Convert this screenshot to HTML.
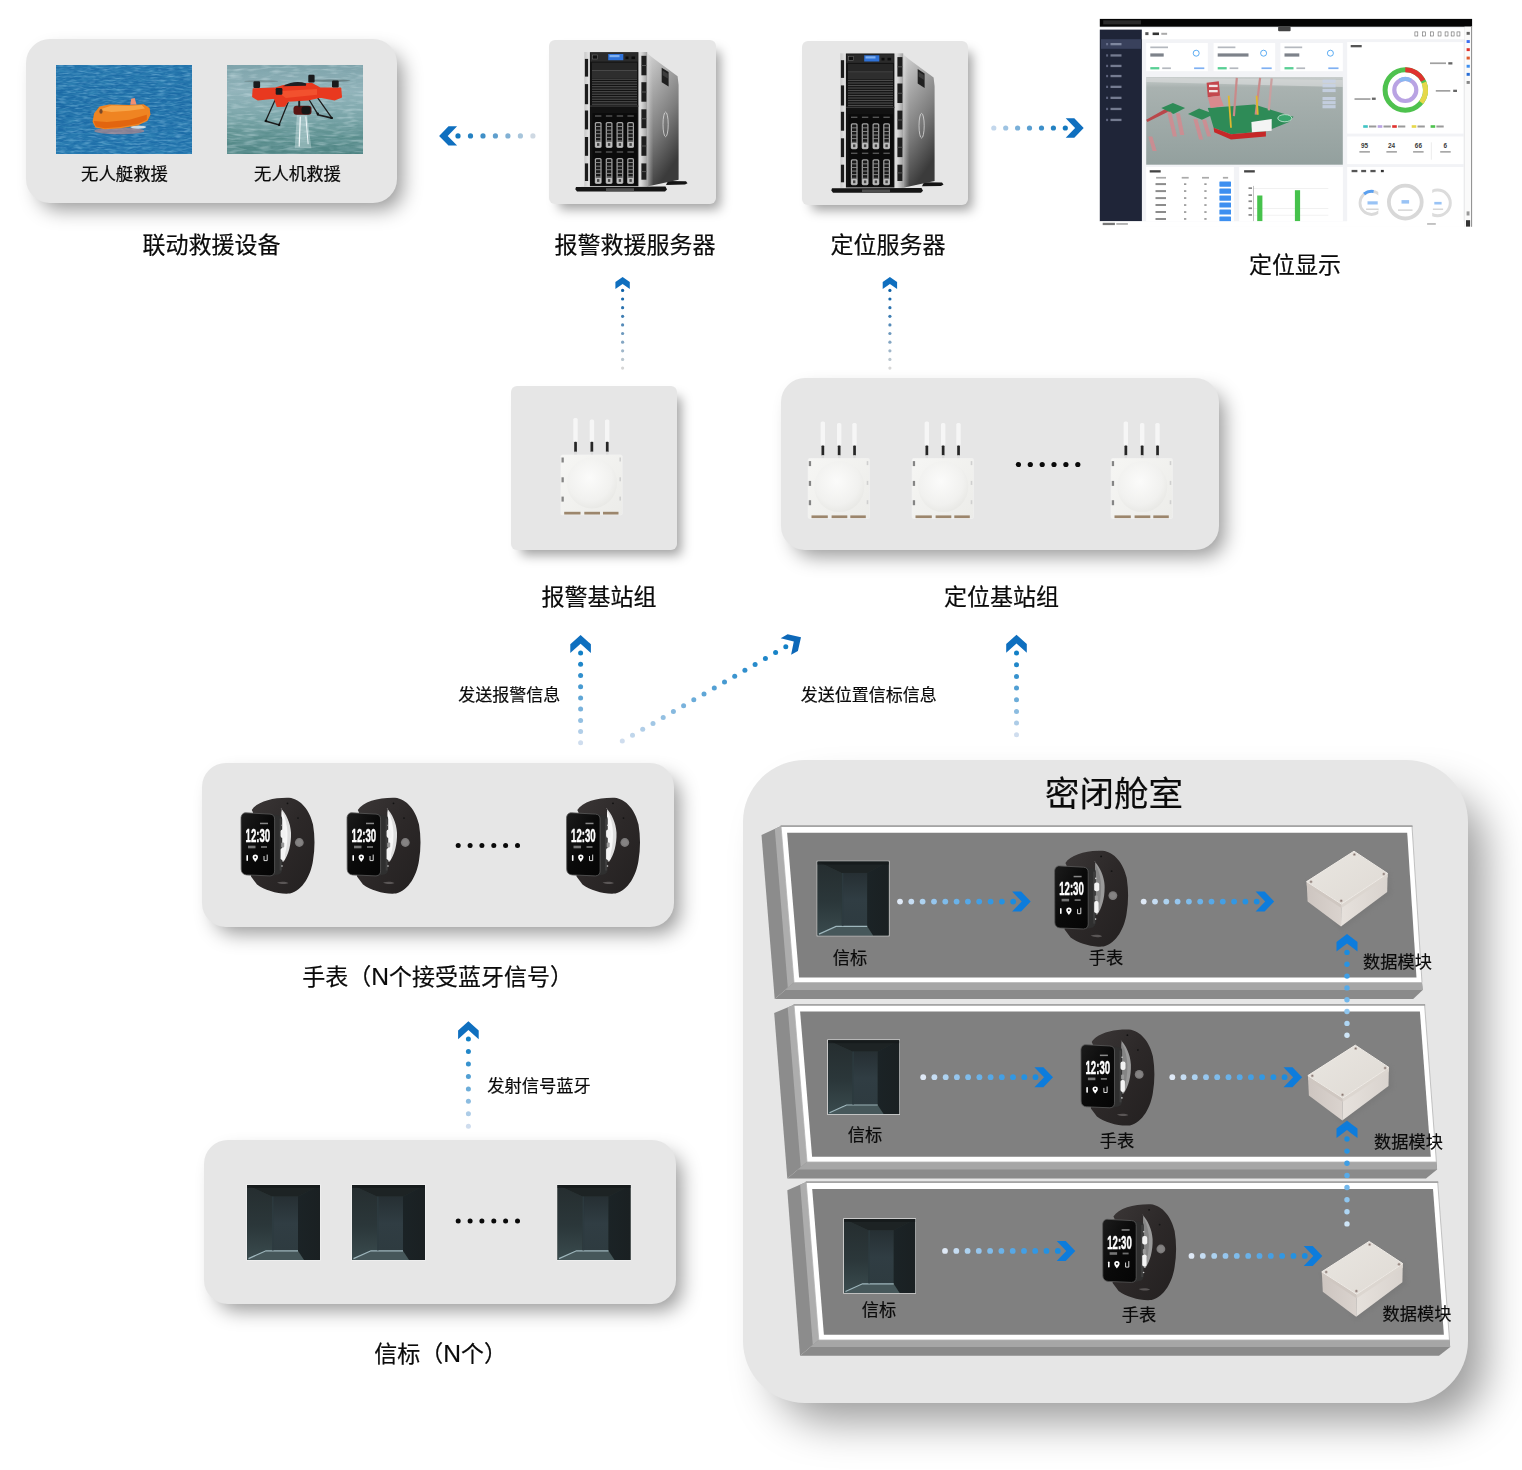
<!DOCTYPE html>
<html lang="zh-CN">
<head>
<meta charset="utf-8">
<title>定位与报警救援系统架构</title>
<style>
html,body{margin:0;padding:0;background:#fff;}
body{width:1522px;height:1470px;position:relative;overflow:hidden;font-family:"Liberation Sans","Noto Sans CJK SC",sans-serif;}
.panel{position:absolute;background:#e6e6e6;}
svg{position:absolute;left:0;top:0;opacity:.999;}
svg text{font-family:"Liberation Sans","Noto Sans CJK SC",sans-serif;fill:#0a0a0a;stroke:#0a0a0a;stroke-width:.2px;}
</style>
</head>
<body>
<div class="panel" style="left:26px;top:39px;width:371px;height:164px;border-radius:24px;box-shadow:9px 10px 20px -4px rgba(0,0,0,.42);"></div>
<div class="panel" style="left:549px;top:40px;width:167px;height:164px;border-radius:6px;box-shadow:7px 8px 12px -3px rgba(0,0,0,.38);"></div>
<div class="panel" style="left:802px;top:41px;width:166px;height:164px;border-radius:6px;box-shadow:7px 8px 12px -3px rgba(0,0,0,.38);"></div>
<div class="panel" style="left:511px;top:386px;width:166px;height:164px;border-radius:6px;box-shadow:7px 8px 12px -3px rgba(0,0,0,.38);"></div>
<div class="panel" style="left:781px;top:378px;width:438px;height:172px;border-radius:24px;box-shadow:9px 10px 20px -4px rgba(0,0,0,.42);"></div>
<div class="panel" style="left:202px;top:763px;width:472px;height:164px;border-radius:24px;box-shadow:9px 10px 20px -4px rgba(0,0,0,.42);"></div>
<div class="panel" style="left:204px;top:1140px;width:472px;height:164px;border-radius:24px;box-shadow:9px 10px 20px -4px rgba(0,0,0,.42);"></div>
<div class="panel" style="left:743px;top:760px;width:725px;height:643px;border-radius:62px;box-shadow:24px 26px 44px -8px rgba(0,0,0,.40);"></div>
<svg width="1522" height="1470" viewBox="0 0 1522 1470">
<defs>
<filter id="blur2" x="-20%" y="-20%" width="140%" height="140%"><feGaussianBlur stdDeviation="2"/></filter>
<filter id="blur1" x="-20%" y="-20%" width="140%" height="140%"><feGaussianBlur stdDeviation="0.7"/></filter>
<linearGradient id="svSide" x1="0" y1="0" x2="0.35" y2="1"><stop offset="0" stop-color="#d6d6d6"/><stop offset=".3" stop-color="#a9a9a9"/><stop offset=".62" stop-color="#7d7d7d"/><stop offset="1" stop-color="#3b3b3b"/></linearGradient>
<linearGradient id="svSide2" x1="0" y1="0" x2="1" y2="0"><stop offset="0" stop-color="#e8e8e8"/><stop offset="1" stop-color="#bdbdbd" stop-opacity="0"/></linearGradient>
<linearGradient id="svFront" x1="0" y1="0" x2="1" y2="0"><stop offset="0" stop-color="#c9c9c9"/><stop offset=".08" stop-color="#e6e6e6"/><stop offset=".9" stop-color="#dcdcdc"/><stop offset="1" stop-color="#a0a0a0"/></linearGradient>
<linearGradient id="bsBody" x1="0" y1="0" x2="1" y2="1"><stop offset="0" stop-color="#f6f6f4"/><stop offset="1" stop-color="#ecece9"/></linearGradient>
<radialGradient id="bsDome" cx=".45" cy=".4" r=".6"><stop offset="0" stop-color="#fbfbfa"/><stop offset=".75" stop-color="#f1f1ef"/><stop offset="1" stop-color="#e9e9e6"/></radialGradient>
<linearGradient id="bcL" x1="0" y1="0" x2="0" y2="1"><stop offset="0" stop-color="#252d2f"/><stop offset=".55" stop-color="#2b373a"/><stop offset="1" stop-color="#3a4b4e"/></linearGradient>
<linearGradient id="bcB" x1="0" y1="0" x2="0" y2="1"><stop offset="0" stop-color="#262f33"/><stop offset=".5" stop-color="#303d43"/><stop offset="1" stop-color="#2e3b40"/></linearGradient>
<linearGradient id="bcR" x1="0" y1="0" x2="1" y2="0"><stop offset="0" stop-color="#1b2326"/><stop offset="1" stop-color="#1a2022"/></linearGradient>
<linearGradient id="mdT" x1="0" y1="0" x2="1" y2="1"><stop offset="0" stop-color="#e9e6e1"/><stop offset="1" stop-color="#dfdad4"/></linearGradient>
<linearGradient id="mdL" x1="0" y1="0" x2="1" y2="0"><stop offset="0" stop-color="#cdc5c0"/><stop offset="1" stop-color="#dad3ce"/></linearGradient>
<linearGradient id="mdR" x1="0" y1="0" x2="1" y2="0"><stop offset="0" stop-color="#e6e1dc"/><stop offset="1" stop-color="#d9d3ce"/></linearGradient>
<linearGradient id="wBand" x1="0" y1="0" x2="1" y2="1"><stop offset="0" stop-color="#3a3636"/><stop offset=".5" stop-color="#2c2828"/><stop offset="1" stop-color="#232020"/></linearGradient>
<linearGradient id="wFace" x1="0" y1="0" x2="1" y2="1"><stop offset="0" stop-color="#1c1c1c"/><stop offset=".5" stop-color="#0a0a0a"/><stop offset="1" stop-color="#050505"/></linearGradient>
<linearGradient id="sea1" x1="0" y1="0" x2="0" y2="1"><stop offset="0" stop-color="#1f6ea8"/><stop offset=".5" stop-color="#1a68a4"/><stop offset="1" stop-color="#1f6faa"/></linearGradient>
<linearGradient id="sea2" x1="0" y1="0" x2="0" y2="1"><stop offset="0" stop-color="#7da2aa"/><stop offset=".3" stop-color="#94b5bc"/><stop offset=".6" stop-color="#77a3a6"/><stop offset=".8" stop-color="#5a8e8d"/><stop offset="1" stop-color="#4d8382"/></linearGradient>
<linearGradient id="dsea" x1="0" y1="0" x2="0" y2="1"><stop offset="0" stop-color="#c9cecd"/><stop offset=".12" stop-color="#a9b2b0"/><stop offset="1" stop-color="#93a09e"/></linearGradient>
<g id="server">
<polygon points="119,141 137,141.3 138.5,143.2 136,144.6 117,145" fill="#141414" />
<polygon points="27,147 116.5,146.6 118,149.5 116,151.5 28,151.5 26.3,149.3" fill="#151515" />
<rect x="57" y="148.2" width="28" height="3" fill="#4d4d4d" />
<polygon points="98.2,13.3 101.5,16 106,19.5 128.6,36.2 129.6,45 129.6,139.7 98.2,146.4" fill="url(#svSide)" />
<polygon points="98.2,13.3 101.5,16 104,30 104.5,146 98.2,146.4" fill="url(#svSide2)" opacity=".55"/>
<polygon points="112.7,27.7 119.6,32.1 119.6,46.6 112.7,42.2" fill="#202020" />
<polygon points="113.6,30.5 118.8,33.8 118.8,38.5 113.6,35.2" fill="#3d3d3d" />
<ellipse cx="116.6" cy="84.4" rx="2.6" ry="12.3" fill="none" stroke="#d9d9d9" stroke-width="1" opacity=".8"/>
<rect x="35.3" y="12" width="62.9" height="134.6" fill="url(#svFront)" />
<rect x="35.9" y="18.9" width="3.2" height="17.7" fill="#1b1b1b" />
<rect x="35.9" y="44.1" width="3.2" height="20.1" fill="#1b1b1b" />
<rect x="35.9" y="70.5" width="3.2" height="18.9" fill="#1b1b1b" />
<rect x="35.9" y="97" width="3.2" height="18.8" fill="#1b1b1b" />
<rect x="35.9" y="123.4" width="3.2" height="17.6" fill="#1b1b1b" />
<rect x="92.4" y="15.8" width="5" height="19.5" fill="#1e1e1e" />
<rect x="92.4" y="25" width="5" height="1" fill="#555" />
<rect x="92.4" y="42.2" width="5" height="19.5" fill="#1e1e1e" />
<rect x="92.4" y="51.5" width="5" height="1" fill="#555" />
<rect x="92.4" y="69.3" width="5" height="18.9" fill="#1e1e1e" />
<rect x="92.4" y="78.2" width="5" height="1" fill="#555" />
<rect x="92.4" y="96.3" width="5" height="19.5" fill="#1e1e1e" />
<rect x="92.4" y="105.5" width="5" height="1" fill="#555" />
<rect x="92.4" y="123.4" width="5" height="16.3" fill="#1e1e1e" />
<rect x="92.4" y="131.1" width="5" height="1" fill="#555" />
<rect x="40.9" y="12.2" width="48.5" height="134" fill="#121212" />
<rect x="41.5" y="13" width="47.3" height="8.6" fill="#2b2b2b" />
<rect x="59.2" y="14" width="15.1" height="6.2" fill="#2f72d8" />
<rect x="60.5" y="15" width="10" height="2.2" fill="#7fb0f0" />
<rect x="76.5" y="16.5" width="3" height="2.6" fill="#0c0c0c" />
<rect x="82.5" y="16.5" width="3.6" height="2.6" fill="#0c0c0c" />
<rect x="43.5" y="15" width="5" height="4" fill="#111" stroke="#777" stroke-width=".5"/>
<rect x="43" y="22.6" width="45" height="7.6" fill="#262626" />
<rect x="43" y="31" width="45" height="7" fill="#2e2e2e" />
<rect x="43" y="30.2" width="45" height="0.8" fill="#565656" />
<rect x="43" y="38.6" width="45" height="1.2" fill="#4a4a4a" />
<rect x="43" y="41.1" width="45" height="1.2" fill="#4a4a4a" />
<rect x="43" y="43.6" width="45" height="1.2" fill="#4a4a4a" />
<rect x="43" y="46.1" width="45" height="1.2" fill="#4a4a4a" />
<rect x="43" y="48.6" width="45" height="1.2" fill="#4a4a4a" />
<rect x="43" y="51.1" width="45" height="1.2" fill="#4a4a4a" />
<rect x="43" y="53.6" width="45" height="1.2" fill="#4a4a4a" />
<rect x="43" y="56.1" width="45" height="1.2" fill="#4a4a4a" />
<rect x="43" y="58.6" width="45" height="1.2" fill="#4a4a4a" />
<rect x="43" y="61.1" width="45" height="1.2" fill="#4a4a4a" />
<rect x="43" y="63.6" width="45" height="1.2" fill="#4a4a4a" />
<rect x="41" y="65.5" width="48.4" height="1.2" fill="#3a3a3a" />
<rect x="43.5" y="73" width="44.5" height="72" fill="#0b0b0b" />
<rect x="46" y="75.3" width="6.4" height="1.4" fill="#555" />
<rect x="45.8" y="81.9" width="6.8" height="26" fill="#a4a4a4" rx="1.6"/>
<rect x="47" y="83.3" width="4.4" height="23" fill="#1a1a1a" rx="0.8"/>
<rect x="46.2" y="86.1" width="6" height="0.9" fill="#8f8f8f" />
<rect x="46.2" y="89.7" width="6" height="0.9" fill="#8f8f8f" />
<rect x="46.2" y="93.3" width="6" height="0.9" fill="#8f8f8f" />
<rect x="46.2" y="96.9" width="6" height="0.9" fill="#8f8f8f" />
<rect x="46.2" y="100.5" width="6" height="0.9" fill="#8f8f8f" />
<rect x="46.2" y="101.7" width="6" height="5.4" fill="#bdbdbd" rx="1"/>
<rect x="48" y="103.1" width="2.4" height="2.8" fill="#444" />
<rect x="46" y="111.3" width="6.4" height="1.4" fill="#555" />
<rect x="45.8" y="117.9" width="6.8" height="26" fill="#a4a4a4" rx="1.6"/>
<rect x="47" y="119.3" width="4.4" height="23" fill="#1a1a1a" rx="0.8"/>
<rect x="46.2" y="122.1" width="6" height="0.9" fill="#8f8f8f" />
<rect x="46.2" y="125.7" width="6" height="0.9" fill="#8f8f8f" />
<rect x="46.2" y="129.3" width="6" height="0.9" fill="#8f8f8f" />
<rect x="46.2" y="132.9" width="6" height="0.9" fill="#8f8f8f" />
<rect x="46.2" y="136.5" width="6" height="0.9" fill="#8f8f8f" />
<rect x="46.2" y="137.7" width="6" height="5.4" fill="#bdbdbd" rx="1"/>
<rect x="48" y="139.1" width="2.4" height="2.8" fill="#444" />
<rect x="56.9" y="75.3" width="6.4" height="1.4" fill="#555" />
<rect x="56.7" y="81.9" width="6.8" height="26" fill="#a4a4a4" rx="1.6"/>
<rect x="57.9" y="83.3" width="4.4" height="23" fill="#1a1a1a" rx="0.8"/>
<rect x="57.1" y="86.1" width="6" height="0.9" fill="#8f8f8f" />
<rect x="57.1" y="89.7" width="6" height="0.9" fill="#8f8f8f" />
<rect x="57.1" y="93.3" width="6" height="0.9" fill="#8f8f8f" />
<rect x="57.1" y="96.9" width="6" height="0.9" fill="#8f8f8f" />
<rect x="57.1" y="100.5" width="6" height="0.9" fill="#8f8f8f" />
<rect x="57.1" y="101.7" width="6" height="5.4" fill="#bdbdbd" rx="1"/>
<rect x="58.9" y="103.1" width="2.4" height="2.8" fill="#444" />
<rect x="56.9" y="111.3" width="6.4" height="1.4" fill="#555" />
<rect x="56.7" y="117.9" width="6.8" height="26" fill="#a4a4a4" rx="1.6"/>
<rect x="57.9" y="119.3" width="4.4" height="23" fill="#1a1a1a" rx="0.8"/>
<rect x="57.1" y="122.1" width="6" height="0.9" fill="#8f8f8f" />
<rect x="57.1" y="125.7" width="6" height="0.9" fill="#8f8f8f" />
<rect x="57.1" y="129.3" width="6" height="0.9" fill="#8f8f8f" />
<rect x="57.1" y="132.9" width="6" height="0.9" fill="#8f8f8f" />
<rect x="57.1" y="136.5" width="6" height="0.9" fill="#8f8f8f" />
<rect x="57.1" y="137.7" width="6" height="5.4" fill="#bdbdbd" rx="1"/>
<rect x="58.9" y="139.1" width="2.4" height="2.8" fill="#444" />
<rect x="67.7" y="75.3" width="6.4" height="1.4" fill="#555" />
<rect x="67.5" y="81.9" width="6.8" height="26" fill="#a4a4a4" rx="1.6"/>
<rect x="68.7" y="83.3" width="4.4" height="23" fill="#1a1a1a" rx="0.8"/>
<rect x="67.9" y="86.1" width="6" height="0.9" fill="#8f8f8f" />
<rect x="67.9" y="89.7" width="6" height="0.9" fill="#8f8f8f" />
<rect x="67.9" y="93.3" width="6" height="0.9" fill="#8f8f8f" />
<rect x="67.9" y="96.9" width="6" height="0.9" fill="#8f8f8f" />
<rect x="67.9" y="100.5" width="6" height="0.9" fill="#8f8f8f" />
<rect x="67.9" y="101.7" width="6" height="5.4" fill="#bdbdbd" rx="1"/>
<rect x="69.7" y="103.1" width="2.4" height="2.8" fill="#444" />
<rect x="67.7" y="111.3" width="6.4" height="1.4" fill="#555" />
<rect x="67.5" y="117.9" width="6.8" height="26" fill="#a4a4a4" rx="1.6"/>
<rect x="68.7" y="119.3" width="4.4" height="23" fill="#1a1a1a" rx="0.8"/>
<rect x="67.9" y="122.1" width="6" height="0.9" fill="#8f8f8f" />
<rect x="67.9" y="125.7" width="6" height="0.9" fill="#8f8f8f" />
<rect x="67.9" y="129.3" width="6" height="0.9" fill="#8f8f8f" />
<rect x="67.9" y="132.9" width="6" height="0.9" fill="#8f8f8f" />
<rect x="67.9" y="136.5" width="6" height="0.9" fill="#8f8f8f" />
<rect x="67.9" y="137.7" width="6" height="5.4" fill="#bdbdbd" rx="1"/>
<rect x="69.7" y="139.1" width="2.4" height="2.8" fill="#444" />
<rect x="78.4" y="75.3" width="6.4" height="1.4" fill="#555" />
<rect x="78.2" y="81.9" width="6.8" height="26" fill="#a4a4a4" rx="1.6"/>
<rect x="79.4" y="83.3" width="4.4" height="23" fill="#1a1a1a" rx="0.8"/>
<rect x="78.6" y="86.1" width="6" height="0.9" fill="#8f8f8f" />
<rect x="78.6" y="89.7" width="6" height="0.9" fill="#8f8f8f" />
<rect x="78.6" y="93.3" width="6" height="0.9" fill="#8f8f8f" />
<rect x="78.6" y="96.9" width="6" height="0.9" fill="#8f8f8f" />
<rect x="78.6" y="100.5" width="6" height="0.9" fill="#8f8f8f" />
<rect x="78.6" y="101.7" width="6" height="5.4" fill="#bdbdbd" rx="1"/>
<rect x="80.4" y="103.1" width="2.4" height="2.8" fill="#444" />
<rect x="78.4" y="111.3" width="6.4" height="1.4" fill="#555" />
<rect x="78.2" y="117.9" width="6.8" height="26" fill="#a4a4a4" rx="1.6"/>
<rect x="79.4" y="119.3" width="4.4" height="23" fill="#1a1a1a" rx="0.8"/>
<rect x="78.6" y="122.1" width="6" height="0.9" fill="#8f8f8f" />
<rect x="78.6" y="125.7" width="6" height="0.9" fill="#8f8f8f" />
<rect x="78.6" y="129.3" width="6" height="0.9" fill="#8f8f8f" />
<rect x="78.6" y="132.9" width="6" height="0.9" fill="#8f8f8f" />
<rect x="78.6" y="136.5" width="6" height="0.9" fill="#8f8f8f" />
<rect x="78.6" y="137.7" width="6" height="5.4" fill="#bdbdbd" rx="1"/>
<rect x="80.4" y="139.1" width="2.4" height="2.8" fill="#444" />
</g>
<g id="bs">
<rect x="12.3" y="1.9" width="4.4" height="24.1" fill="#f7f7f7" rx="1.6" opacity=".92"/>
<rect x="13.2" y="25.8" width="2.7" height="10.4" fill="#262626" rx="0.8"/>
<rect x="13.3" y="35.6" width="2.4" height="4.6" fill="#dcdcdc" />
<rect x="28.7" y="3.4" width="4.4" height="22.6" fill="#f7f7f7" rx="1.6" opacity=".92"/>
<rect x="29.5" y="25.8" width="2.7" height="10.4" fill="#262626" rx="0.8"/>
<rect x="29.7" y="35.6" width="2.4" height="4.6" fill="#dcdcdc" />
<rect x="44" y="3.4" width="4.4" height="22.6" fill="#f7f7f7" rx="1.6" opacity=".92"/>
<rect x="44.9" y="25.8" width="2.7" height="10.4" fill="#262626" rx="0.8"/>
<rect x="45" y="35.6" width="2.4" height="4.6" fill="#dcdcdc" />
<rect x="-0.6" y="38.4" width="62.2" height="60.9" fill="#f4f4f4" rx="2" opacity=".7"/>
<rect x="0" y="39" width="61" height="59.7" fill="url(#bsBody)" rx="1.5"/>
<ellipse cx="31" cy="67" rx="25" ry="25.5" fill="url(#bsDome)"/>
<rect x="0.5" y="41.5" width="2.3" height="5" fill="#858585" />
<rect x="58.4" y="41.5" width="1.6" height="4" fill="#cfcfcf" />
<rect x="0.5" y="61.3" width="2.3" height="5" fill="#858585" />
<rect x="58.4" y="61.3" width="1.6" height="4" fill="#cfcfcf" />
<rect x="0.5" y="80.6" width="2.3" height="5" fill="#858585" />
<rect x="58.4" y="80.6" width="1.6" height="4" fill="#cfcfcf" />
<rect x="3.2" y="95.8" width="16.3" height="2.7" fill="#9c866c" />
<rect x="23.3" y="95.8" width="15.7" height="2.7" fill="#9c866c" />
<rect x="42" y="95.8" width="15.5" height="2.7" fill="#9c866c" />
</g>
<g id="beacon">
<rect x="-0.7" y="-0.7" width="74.4" height="76.4" fill="#f1f1f1" />
<rect x="0" y="0" width="73" height="75" fill="#26312f" />
<polygon points="0,0 73,0 51,11.5 25,11.5" fill="#1d2324" />
<polygon points="0,0 25,11.5 25,65.5 0,75" fill="url(#bcL)" />
<rect x="25" y="11.5" width="26" height="54" fill="url(#bcB)" />
<polygon points="73,0 51,11.5 51,65.5 57,75 73,75" fill="url(#bcR)" />
<polygon points="0,75 2,73.3 19,66 51,66 57,75" fill="#46575a" />
<polyline points="1.5,73.6 19,65.8 51,65.8" fill="none" stroke="#9fb7bd" stroke-width="1.2"/>
<rect x="25" y="11.5" width="1.6" height="54" fill="#2d3b40" opacity=".8"/>
<rect x="0" y="0" width="73" height="3" fill="#141819" opacity=".7"/>
</g>
<g id="beaconb">
<rect x="-0.8" y="-0.8" width="72.8" height="75.5" fill="#dadada" />
<g transform="scale(0.975,0.985)"><rect x="0" y="0" width="73" height="75" fill="#26312f" />
<polygon points="0,0 73,0 51,11.5 25,11.5" fill="#1d2324" />
<polygon points="0,0 25,11.5 25,65.5 0,75" fill="url(#bcL)" />
<rect x="25" y="11.5" width="26" height="54" fill="url(#bcB)" />
<polygon points="73,0 51,11.5 51,65.5 57,75 73,75" fill="url(#bcR)" />
<polygon points="0,75 2,73.3 19,66 51,66 57,75" fill="#46575a" />
<polyline points="1.5,73.6 19,65.8 51,65.8" fill="none" stroke="#9fb7bd" stroke-width="1.2"/>
<rect x="25" y="11.5" width="1.6" height="54" fill="#2d3b40" opacity=".8"/>
<rect x="0" y="0" width="73" height="3" fill="#141819" opacity=".7"/>
</g></g>
<g id="module">
<polygon points="0,33 36,80 86,44 84,22" fill="#6f6f6f" opacity=".35" filter="url(#blur2)"/>
<polygon points="1.6,31.6 36.4,54 36,76.6 2.6,51.5" fill="url(#mdL)" />
<polygon points="36.4,54 82.6,23.4 82.2,42 36,76.6" fill="url(#mdR)" />
<polygon points="1.6,31.6 36.4,54 36.4,58 1.8,35.4" fill="#cfc7c1" />
<polygon points="36.4,54 82.6,23.4 82.6,27.2 36.4,58" fill="#dcd6d0" />
<polygon points="49,1.2 82.6,23.4 36.4,54 1.6,31.6" fill="url(#mdT)" stroke="#efebe6" stroke-width="1" stroke-linejoin="round"/>
<circle cx="6" cy="31.8" r="1.5" fill="#b9aca6" />
<circle cx="6" cy="31.8" r="0.7" fill="#7f716c" />
<circle cx="36.2" cy="50.8" r="1.5" fill="#b9aca6" />
<circle cx="36.2" cy="50.8" r="0.7" fill="#7f716c" />
<circle cx="78.8" cy="24" r="1.5" fill="#b9aca6" />
<circle cx="78.8" cy="24" r="0.7" fill="#7f716c" />
<circle cx="49.4" cy="4.4" r="1.5" fill="#b9aca6" />
<circle cx="49.4" cy="4.4" r="0.7" fill="#7f716c" />
</g>
<g id="watch">
<path d="M10.8,-2.5 C16,-11 32,-15.2 48,-14.8 C60,-13.5 69,-2 72,12 C74,24 74,36 72,48 C70,62 62,78 49,81 C38,82 24,78 16,72 L10,64 L12,0 Z" fill="url(#wBand)"/>
<path d="M39.6,-4.6 C45,1 49.5,10 50,20 C50.4,32 47.5,42 42.8,49 L40.6,49 L40.6,-4 Z" fill="#dedede"/>
<path d="M41,-1 C44.5,5 46.3,13 46.5,21 C46.6,31 45,40 42,47.2 L40.6,47.2 L40.6,-1 Z" fill="#f7f7f7"/>
<circle cx="46.5" cy="-9.2" r="0.9" fill="#111" />
<circle cx="57" cy="5.6" r="0.9" fill="#141414" />
<circle cx="58.3" cy="30" r="4.4" fill="#7c7a7a" />
<circle cx="58.3" cy="30" r="3" fill="#858383" />
<path d="M36,70 C40,68.8 45,69 47.5,70.6 C45,72 39.5,72 36,70 Z" fill="#5a5656"/>
<path d="M30,1.5 L39,3.2 C40.6,3.6 41.2,5 41.2,7 L41.2,56 C41.2,59 40,61.2 38,61.8 L30,63.5 Z" fill="#2f2f2f"/>
<rect x="38.6" y="6" width="2" height="52" fill="#4a4a4a" opacity=".6"/>
<rect x="39.6" y="17" width="5" height="8.6" fill="#f2f2f2" rx="2"/>
<rect x="40.2" y="30" width="3" height="5" fill="#9a9a9a" rx="1"/>
<rect x="39.6" y="35.5" width="4.4" height="12" fill="#f4f4f4" rx="1.8"/>
<circle cx="41.2" cy="12.8" r="0.8" fill="#cfcfcf" />
<circle cx="41" cy="53.5" r="0.8" fill="#cfcfcf" />
<path d="M5,0.3 L29,1.6 C32,1.8 33.6,3.6 33.6,6.6 L33.6,58.4 C33.6,61.4 32,63.2 29,63.4 L5.6,62.4 C2.2,62.2 0.2,60 0.2,56.6 L0,6 C0,2.6 1.8,0.2 5,0.3 Z" fill="url(#wFace)" stroke="#5a5a5a" stroke-width=".8"/>
<text x="4.6" y="29.6" font-size="17.6" font-weight="700" textLength="24.6" lengthAdjust="spacingAndGlyphs" style="fill:#fff;stroke:#fff;stroke-width:.45px;font-family:'Liberation Sans',sans-serif">12:30</text>
<rect x="19" y="10.2" width="8" height="1.5" fill="#bdbdbd" opacity=".7"/>
<rect x="7" y="33.2" width="7.5" height="2.6" fill="#9a9a9a" opacity=".75"/>
<rect x="20" y="33.6" width="6" height="1.8" fill="#9a9a9a" opacity=".7"/>
<rect x="5.4" y="42.5" width="1.6" height="6" fill="#fff" rx=".8"/>
<path d="M14.3,42 a2.7,2.7 0 0 1 2.7,2.7 c0,1.8 -2.7,4.6 -2.7,4.6 c0,0 -2.7,-2.8 -2.7,-4.6 a2.7,2.7 0 0 1 2.7,-2.7 z" fill="#fff"/>
<circle cx="14.3" cy="44.7" r="1" fill="#111" />
<path d="M23,43.5 v4.6 h3.2 v-6" fill="none" stroke="#ddd" stroke-width="1"/>
</g>
<g id="watchc">
<path d="M10.8,-2.5 C16,-11 32,-15.2 48,-14.8 C60,-13.5 69,-2 72,12 C74,24 74,36 72,48 C70,62 62,78 49,81 C38,82 24,78 16,72 L10,64 L12,0 Z" fill="url(#wBand)"/>
<path d="M39.6,-4.6 C45,1 49.5,10 50,20 C50.4,32 47.5,42 42.8,49 L40.6,49 L40.6,-4 Z" fill="#9a9a9a"/>
<path d="M41,-1 C44.5,5 46.3,13 46.5,21 C46.6,31 45,40 42,47.2 L40.6,47.2 L40.6,-1 Z" fill="#858585"/>
<circle cx="46.5" cy="-9.2" r="0.9" fill="#111" />
<circle cx="57" cy="5.6" r="0.9" fill="#141414" />
<circle cx="58.3" cy="30" r="4.4" fill="#7c7a7a" />
<circle cx="58.3" cy="30" r="3" fill="#858383" />
<path d="M36,70 C40,68.8 45,69 47.5,70.6 C45,72 39.5,72 36,70 Z" fill="#5a5656"/>
<path d="M30,1.5 L39,3.2 C40.6,3.6 41.2,5 41.2,7 L41.2,56 C41.2,59 40,61.2 38,61.8 L30,63.5 Z" fill="#2f2f2f"/>
<rect x="38.6" y="6" width="2" height="52" fill="#4a4a4a" opacity=".6"/>
<rect x="39.6" y="17" width="5" height="8.6" fill="#f2f2f2" rx="2"/>
<rect x="40.2" y="30" width="3" height="5" fill="#9a9a9a" rx="1"/>
<rect x="39.6" y="35.5" width="4.4" height="12" fill="#f4f4f4" rx="1.8"/>
<circle cx="41.2" cy="12.8" r="0.8" fill="#cfcfcf" />
<circle cx="41" cy="53.5" r="0.8" fill="#cfcfcf" />
<path d="M5,0.3 L29,1.6 C32,1.8 33.6,3.6 33.6,6.6 L33.6,58.4 C33.6,61.4 32,63.2 29,63.4 L5.6,62.4 C2.2,62.2 0.2,60 0.2,56.6 L0,6 C0,2.6 1.8,0.2 5,0.3 Z" fill="url(#wFace)" stroke="#5a5a5a" stroke-width=".8"/>
<text x="4.6" y="29.6" font-size="17.6" font-weight="700" textLength="24.6" lengthAdjust="spacingAndGlyphs" style="fill:#fff;stroke:#fff;stroke-width:.45px;font-family:'Liberation Sans',sans-serif">12:30</text>
<rect x="19" y="10.2" width="8" height="1.5" fill="#bdbdbd" opacity=".7"/>
<rect x="7" y="33.2" width="7.5" height="2.6" fill="#9a9a9a" opacity=".75"/>
<rect x="20" y="33.6" width="6" height="1.8" fill="#9a9a9a" opacity=".7"/>
<rect x="5.4" y="42.5" width="1.6" height="6" fill="#fff" rx=".8"/>
<path d="M14.3,42 a2.7,2.7 0 0 1 2.7,2.7 c0,1.8 -2.7,4.6 -2.7,4.6 c0,0 -2.7,-2.8 -2.7,-4.6 a2.7,2.7 0 0 1 2.7,-2.7 z" fill="#fff"/>
<circle cx="14.3" cy="44.7" r="1" fill="#111" />
<path d="M23,43.5 v4.6 h3.2 v-6" fill="none" stroke="#ddd" stroke-width="1"/>
</g>
</defs>
<g>
<filter id="wv1" x="0" y="0" width="100%" height="100%"><feTurbulence type="fractalNoise" baseFrequency="0.09 0.45" numOctaves="3" seed="7" result="n"/><feColorMatrix in="n" type="matrix" values="0 0 0 0 0.05  0 0 0 0 0.30  0 0 0 0 0.52  1.8 0 0 0 -0.5"/></filter>
<filter id="wv1b" x="0" y="0" width="100%" height="100%"><feTurbulence type="fractalNoise" baseFrequency="0.12 0.55" numOctaves="2" seed="21" result="n"/><feColorMatrix in="n" type="matrix" values="0 0 0 0 0.30  0 0 0 0 0.60  0 0 0 0 0.82  0 1.8 0 0 -0.8"/></filter>
<rect x="56" y="65" width="136" height="89" fill="url(#sea1)" />
<rect x="56" y="65" width="136" height="89" fill="#000" filter="url(#wv1)" opacity=".55"/>
<rect x="56" y="65" width="136" height="89" fill="#000" filter="url(#wv1b)" opacity=".6"/>
<ellipse cx="119.3" cy="130.9" rx="25" ry="3.4" fill="#c98a86" opacity=".6"/>
<ellipse cx="138.3" cy="127.1" rx="8" ry="1.6" fill="#f2f2f2" opacity=".8"/>
<path d="M93.6,121.5 L95,113.9 L99.9,107.6 L109.3,105.6 L129.4,105.9 L143.2,105.2 L148.6,108.5 L149.5,114.3 L146.8,120.2 L138.3,124.2 L120.4,127.3 L104.8,128.2 L95.9,126.4 Z" fill="#ef8422" stroke="#ef8422" stroke-width="2" stroke-linejoin="round"/>
<path d="M93.6,121 L107,121.9 L129.4,119.7 L146.8,114.8 L146.8,119.7 L138.3,123.7 L120.4,127.1 L104.8,128.2 L95.9,126.4 Z" fill="#e2650f"/>
<path d="M98.5,109.9 L111.5,105.4 L129.4,105.9 L141.7,105 L145,108.5 L129.4,110.8 L111.5,112.1 Z" fill="#f7a548"/>
<polygon points="130.3,104.7 131.2,98.7 134.7,98 136.5,104.5" fill="#f29072" />
<ellipse cx="101" cy="111.4" rx="1.6" ry="2.4" fill="#7a4a2a"/>
</g>
<g>
<filter id="wv2" x="0" y="0" width="100%" height="100%"><feTurbulence type="fractalNoise" baseFrequency="0.05 0.3" numOctaves="3" seed="3" result="n"/><feColorMatrix in="n" type="matrix" values="0 0 0 0 0.24  0 0 0 0 0.42  0 0 0 0 0.45  1.7 0 0 0 -0.5"/></filter>
<filter id="wv2b" x="0" y="0" width="100%" height="100%"><feTurbulence type="fractalNoise" baseFrequency="0.07 0.35" numOctaves="2" seed="11" result="n"/><feColorMatrix in="n" type="matrix" values="0 0 0 0 0.74  0 0 0 0 0.86  0 0 0 0 0.9  0 1.8 0 0 -0.85"/></filter>
<rect x="227" y="65" width="136" height="89" fill="url(#sea2)" />
<rect x="227" y="65" width="136" height="89" fill="#000" filter="url(#wv2)" opacity=".5"/>
<rect x="227" y="65" width="136" height="89" fill="#000" filter="url(#wv2b)" opacity=".55"/>
<path d="M296.9,114.8 L307,114.8 L311.4,148.3 L294.7,148.3 Z" fill="#dcecef" opacity=".4" filter="url(#blur1)"/>
<line x1="300.3" y1="117" x2="299.2" y2="146.1" stroke="#f4fbfc" stroke-width="1.2" stroke-linecap="round"/>
<line x1="305.9" y1="117" x2="308.1" y2="143.8" stroke="#eef8fa" stroke-width="1" stroke-linecap="round"/>
<ellipse cx="330.4" cy="80.6" rx="20" ry="1.2" fill="#4b5d5f" opacity=".55"/>
<ellipse cx="261.2" cy="81.3" rx="17" ry="1.1" fill="#5b6d6f" opacity=".45"/>
<line x1="275" y1="100.3" x2="265.6" y2="121" stroke="#1d1d1d" stroke-width="1.3" stroke-linecap="round"/>
<line x1="288" y1="102.5" x2="279.1" y2="124.8" stroke="#1d1d1d" stroke-width="1.3" stroke-linecap="round"/>
<line x1="265.2" y1="121" x2="279.5" y2="125.1" stroke="#1d1d1d" stroke-width="1.6" stroke-linecap="round"/>
<line x1="308.1" y1="98" x2="318.2" y2="114.8" stroke="#1d1d1d" stroke-width="1.3" stroke-linecap="round"/>
<line x1="317" y1="96.9" x2="331.6" y2="117.7" stroke="#1d1d1d" stroke-width="1.3" stroke-linecap="round"/>
<line x1="317.7" y1="114.8" x2="332" y2="118.1" stroke="#1d1d1d" stroke-width="1.6" stroke-linecap="round"/>
<path d="M253.4,89.1 L274.6,88.4 L283.5,85.7 L311.4,83.5 L320.4,88.4 L340.5,88.4 L341.2,96.9 L334.9,99.6 L320.4,96.9 L308.1,99.6 L288,100.9 L284.6,105.9 L277.3,106.3 L274.6,98 L257.8,99.6 L252.9,96.5 Z" fill="#e8391f" stroke="#e8391f" stroke-width="1.6" stroke-linejoin="round"/>
<path d="M276.8,91.3 L317,89.1 L317,94.7 L285.8,98 Z" fill="#f2512e"/>
<path d="M283.1,86.2 Q294.7,79.5 306.3,83.5 L305.9,85.7 Z" fill="#1e1e22"/>
<rect x="253.4" y="81.3" width="6.7" height="6.7" fill="#1a1a1c" rx="1.2"/>
<rect x="308.3" y="74.8" width="6.3" height="7.6" fill="#1a1a1c" rx="1.2"/>
<rect x="332" y="80.4" width="6.7" height="7.1" fill="#1a1a1c" rx="1.2"/>
<rect x="275.7" y="88" width="6.7" height="6.7" fill="#1a1a1c" rx="1.2"/>
<rect x="293.5" y="105.8" width="18" height="9" fill="#5a1512" rx="3"/>
<rect x="301.5" y="106.3" width="9" height="8" fill="#161616" rx="3"/>
<line x1="299.2" y1="101.8" x2="299.2" y2="106.3" stroke="#222" stroke-width="2" stroke-linecap="round"/>
<circle cx="317.7" cy="113.7" r="1.2" fill="#111" />
<circle cx="266.1" cy="121" r="1.2" fill="#111" />
<circle cx="279.1" cy="124.8" r="1.2" fill="#111" />
<circle cx="331.6" cy="117.9" r="1.2" fill="#111" />
</g>
<use href="#server" x="549" y="40"/>
<use href="#server" x="805" y="41.3"/>
<g>
<rect x="1100" y="19" width="372" height="207.5" fill="#f2f3f6" />
<rect x="1099.8" y="18.9" width="372.3" height="7.8" fill="#050505" />
<rect x="1103.2" y="20.3" width="37.8" height="4.1" fill="#2a2a2a" />
<rect x="1099.8" y="28.2" width="42.1" height="193.1" fill="#ffffff" />
<rect x="1099.8" y="29.6" width="42.1" height="191.7" fill="#1f2538" />
<rect x="1100.9" y="39.2" width="40.1" height="9.6" fill="#39415c" />
<rect x="1110.5" y="43" width="11" height="2.3" fill="#aeb5cc" opacity=".6"/>
<rect x="1106.1" y="43" width="2" height="2.3" fill="#8f98b5" opacity=".55"/>
<rect x="1110.5" y="54.3" width="11" height="2.3" fill="#aeb5cc" opacity=".6"/>
<rect x="1106.1" y="54.3" width="2" height="2.3" fill="#8f98b5" opacity=".55"/>
<rect x="1110.5" y="64.8" width="11" height="2.3" fill="#aeb5cc" opacity=".6"/>
<rect x="1106.1" y="64.8" width="2" height="2.3" fill="#8f98b5" opacity=".55"/>
<rect x="1110.5" y="74.9" width="11" height="2.3" fill="#aeb5cc" opacity=".6"/>
<rect x="1106.1" y="74.9" width="2" height="2.3" fill="#8f98b5" opacity=".55"/>
<rect x="1110.5" y="85.7" width="11" height="2.3" fill="#aeb5cc" opacity=".6"/>
<rect x="1106.1" y="85.7" width="2" height="2.3" fill="#8f98b5" opacity=".55"/>
<rect x="1110.5" y="96.7" width="11" height="2.3" fill="#aeb5cc" opacity=".6"/>
<rect x="1106.1" y="96.7" width="2" height="2.3" fill="#8f98b5" opacity=".55"/>
<rect x="1110.5" y="107.8" width="11" height="2.3" fill="#aeb5cc" opacity=".6"/>
<rect x="1106.1" y="107.8" width="2" height="2.3" fill="#8f98b5" opacity=".55"/>
<rect x="1110.5" y="118.8" width="11" height="2.3" fill="#aeb5cc" opacity=".6"/>
<rect x="1106.1" y="118.8" width="2" height="2.3" fill="#8f98b5" opacity=".55"/>
<rect x="1141.9" y="28.2" width="323" height="11" fill="#ffffff" />
<rect x="1145.3" y="32.2" width="3.2" height="2.9" fill="#555" />
<rect x="1152.6" y="32.5" width="6.4" height="2.6" fill="#333" />
<rect x="1161.3" y="32.8" width="5.8" height="2" fill="#aaa" />
<rect x="1278.1" y="26.7" width="12.5" height="4.6" fill="#444" rx="1"/>
<rect x="1414.9" y="31.9" width="2.9" height="4.1" fill="none" stroke="#666" stroke-width=".6"/>
<rect x="1422.7" y="31.9" width="2.9" height="4.1" fill="none" stroke="#666" stroke-width=".6"/>
<rect x="1430.6" y="31.9" width="2.9" height="4.1" fill="none" stroke="#666" stroke-width=".6"/>
<rect x="1438.1" y="31.9" width="2.9" height="4.1" fill="none" stroke="#666" stroke-width=".6"/>
<rect x="1445.1" y="31.9" width="2.9" height="4.1" fill="none" stroke="#666" stroke-width=".6"/>
<rect x="1451.2" y="31.9" width="2.9" height="4.1" fill="none" stroke="#666" stroke-width=".6"/>
<rect x="1457" y="31.9" width="2.9" height="4.1" fill="none" stroke="#666" stroke-width=".6"/>
<rect x="1146.2" y="43" width="61.6" height="28.2" fill="#ffffff" />
<rect x="1150.3" y="46.5" width="17.7" height="1.7" fill="#b4b8be" />
<rect x="1150.3" y="53.4" width="13.4" height="3.2" fill="#7d828a" />
<rect x="1150.3" y="67.1" width="9" height="2.3" fill="#58cf94" />
<rect x="1162.2" y="67.4" width="8.7" height="1.7" fill="#b4b8be" />
<rect x="1194.1" y="67.4" width="10.2" height="1.7" fill="#7fb0f2" />
<circle cx="1196.2" cy="53.2" r="3" fill="none" stroke="#4aa3f0" stroke-width=".9"/>
<rect x="1213.6" y="43" width="61.6" height="28.2" fill="#ffffff" />
<rect x="1217.7" y="46.5" width="17.7" height="1.7" fill="#b4b8be" />
<rect x="1217.7" y="53.4" width="30.8" height="3.2" fill="#7d828a" />
<rect x="1217.7" y="67.1" width="9" height="2.3" fill="#58cf94" />
<rect x="1229.6" y="67.4" width="8.7" height="1.7" fill="#b4b8be" />
<rect x="1261.5" y="67.4" width="10.2" height="1.7" fill="#7fb0f2" />
<circle cx="1263.6" cy="53.2" r="3" fill="none" stroke="#4aa3f0" stroke-width=".9"/>
<rect x="1280.4" y="43" width="62.4" height="28.2" fill="#ffffff" />
<rect x="1284.5" y="46.5" width="17.7" height="1.7" fill="#b4b8be" />
<rect x="1284.5" y="53.4" width="14.8" height="3.2" fill="#7d828a" />
<rect x="1284.5" y="67.1" width="9" height="2.3" fill="#58cf94" />
<rect x="1296.4" y="67.4" width="8.7" height="1.7" fill="#b4b8be" />
<rect x="1328.3" y="67.4" width="10.2" height="1.7" fill="#7fb0f2" />
<circle cx="1330.4" cy="53.2" r="3" fill="none" stroke="#4aa3f0" stroke-width=".9"/>
<rect x="1146.2" y="77" width="196.6" height="87.7" fill="url(#dsea)" />
<polygon points="1146.2,77.8 1342.9,79.9 1342.9,87.1 1146.2,81.9" fill="#d5d9d9" opacity=".7"/>
<polygon points="1146.2,119.7 1167.1,108 1170.6,110.4 1147.4,122" fill="#b9474a" />
<polygon points="1161.3,108 1172.9,103.1 1185.1,108 1173.5,113.9" fill="#2e8b57" />
<polygon points="1188,113.9 1199.1,108.6 1214.2,113.9 1202,119.7" fill="#2e8b57" />
<polygon points="1167.1,111.8 1171.2,111.8 1177,136.5 1172.9,136.5" fill="#d9868c" opacity=".75"/>
<polygon points="1175.8,113.3 1179.9,113.3 1184.3,135.1 1180.2,135.1" fill="#d9868c" opacity=".75"/>
<polygon points="1193.3,119.1 1197.3,119.1 1203.1,139.4 1199.1,139.4" fill="#d9868c" opacity=".75"/>
<polygon points="1202,119.7 1206.1,119.7 1211.3,136.5 1207.2,136.5" fill="#d9868c" opacity=".75"/>
<polygon points="1148.3,136.5 1152.3,136.5 1156.7,151 1152.6,151" fill="#d9868c" opacity=".75"/>
<polygon points="1207.8,108 1254.3,104.6 1293.5,116.8 1289.1,122 1265.9,131.3 1231,134.2 1213.6,127.8" fill="#2e8b57" />
<polygon points="1213.6,127.8 1231,134.2 1265.9,131.3 1265.9,136.5 1231,139.4 1214.2,132.2" fill="#c62828" />
<polygon points="1251.4,122 1271.7,119.1 1271.7,130.7 1251.9,132.2" fill="#f4f4f4" />
<ellipse cx="1284.8" cy="118.2" rx="7" ry="3.6" fill="#3aa56d" stroke="#e8f4ec" stroke-width=".7"/>
<polygon points="1206.6,82.8 1218.8,81.3 1220,95.8 1207.8,97.3" fill="#c4474d" />
<polygon points="1207.8,97.3 1220,95.8 1223.8,106 1210.7,108" fill="#d98a8e" />
<rect x="1209" y="84.8" width="8.7" height="2.3" fill="#f1e6e6" />
<rect x="1209" y="90" width="8.7" height="2.3" fill="#f1e6e6" />
<line x1="1236.8" y1="77.8" x2="1233.9" y2="116.2" stroke="#c98a8a" stroke-width="2.2"/>
<line x1="1260.1" y1="77.8" x2="1255.7" y2="114.7" stroke="#c98a8a" stroke-width="2.2"/>
<line x1="1271.7" y1="78.4" x2="1268.8" y2="110.4" stroke="#c9a0a0" stroke-width="2.2"/>
<line x1="1228.7" y1="95.8" x2="1231" y2="127.8" stroke="#e0b830" stroke-width="1.8"/>
<line x1="1256.6" y1="95.8" x2="1257.8" y2="114.7" stroke="#e0b830" stroke-width="1.8"/>
<rect x="1322.5" y="79.6" width="13.1" height="3.2" fill="#c8d2e6" opacity=".85"/>
<rect x="1322.5" y="84.2" width="13.1" height="3.2" fill="#c8d2e6" opacity=".85"/>
<rect x="1322.5" y="88.9" width="13.1" height="3.2" fill="#c8d2e6" opacity=".85"/>
<rect x="1322.5" y="97" width="13.1" height="3.2" fill="#c8d2e6" opacity=".85"/>
<rect x="1322.5" y="101.1" width="13.1" height="3.2" fill="#c8d2e6" opacity=".85"/>
<rect x="1322.5" y="105.1" width="13.1" height="3.2" fill="#c8d2e6" opacity=".85"/>
<rect x="1347.2" y="42.1" width="116.2" height="91.5" fill="#ffffff" />
<rect x="1350.7" y="45" width="11" height="2.3" fill="#555" />
<circle cx="1405.3" cy="90" r="20.2" fill="none" stroke="#4ec24e" stroke-width="5"/>
<path d="M1405.3,69.8 A20.2,20.2 0 0 1 1423.1,80.6" fill="none" stroke="#e0322e" stroke-width="5"/>
<path d="M1424,82.5 A20.2,20.2 0 0 1 1421.2,102.5" fill="none" stroke="#e6d84a" stroke-width="5"/>
<circle cx="1405.3" cy="90" r="11" fill="none" stroke="#b9a3e3" stroke-width="4.2"/>
<path d="M1399.8,80.5 A11,11 0 0 1 1410.8,80.5" fill="none" stroke="#8ab6f0" stroke-width="4.2"/>
<rect x="1430" y="62.4" width="16" height="1.7" fill="#a0a0a0" />
<rect x="1448.3" y="62.2" width="4.1" height="2.3" fill="#666" />
<rect x="1435.8" y="90" width="14.5" height="1.7" fill="#a0a0a0" />
<rect x="1453.2" y="89.7" width="3.8" height="2.3" fill="#666" />
<rect x="1354.5" y="98.2" width="16" height="1.7" fill="#a0a0a0" />
<rect x="1371.9" y="97.6" width="3.8" height="2.3" fill="#666" />
<rect x="1363.2" y="125.2" width="4.6" height="2.6" fill="#3fc4c4" />
<rect x="1369" y="125.5" width="7.3" height="2" fill="#9a9a9a" />
<rect x="1377.7" y="125.2" width="4.6" height="2.6" fill="#b9a3e3" />
<rect x="1383.5" y="125.5" width="7.3" height="2" fill="#9a9a9a" />
<rect x="1392.2" y="125.2" width="4.6" height="2.6" fill="#e0322e" />
<rect x="1398" y="125.5" width="7.3" height="2" fill="#9a9a9a" />
<rect x="1411.7" y="125.2" width="4.6" height="2.6" fill="#e6d84a" />
<rect x="1417.5" y="125.5" width="7.3" height="2" fill="#9a9a9a" />
<rect x="1430.6" y="125.2" width="4.6" height="2.6" fill="#4ec24e" />
<rect x="1436.4" y="125.5" width="7.3" height="2" fill="#9a9a9a" />
<rect x="1347.2" y="136.5" width="116.2" height="27.6" fill="#ffffff" />
<rect x="1430.9" y="142.3" width="0.6" height="17.4" fill="#e0e0e0" />
<text x="1364.6" y="148.1" font-size="6.4" text-anchor="middle" font-weight="700" style="fill:#3a3a3a;stroke:none">95</text>
<rect x="1359.4" y="151" width="10.5" height="1.7" fill="#a8a8a8" />
<text x="1391.6" y="148.1" font-size="6.4" text-anchor="middle" font-weight="700" style="fill:#3a3a3a;stroke:none">24</text>
<rect x="1386.4" y="151" width="10.5" height="1.7" fill="#a8a8a8" />
<text x="1418.4" y="148.1" font-size="6.4" text-anchor="middle" font-weight="700" style="fill:#3a3a3a;stroke:none">66</text>
<rect x="1413.1" y="151" width="10.5" height="1.7" fill="#a8a8a8" />
<text x="1445.4" y="148.1" font-size="6.4" text-anchor="middle" font-weight="700" style="fill:#3a3a3a;stroke:none">6</text>
<rect x="1440.2" y="151" width="10.5" height="1.7" fill="#a8a8a8" />
<rect x="1146.2" y="167" width="87.7" height="54.3" fill="#ffffff" />
<rect x="1149.7" y="170.2" width="11" height="2.3" fill="#444" />
<rect x="1155.5" y="183.1" width="10.5" height="2" fill="#8c8c8c" />
<rect x="1184" y="183.3" width="2.3" height="1.7" fill="#999" />
<rect x="1204.3" y="183.3" width="2.3" height="1.7" fill="#999" />
<rect x="1219.4" y="181.5" width="11.6" height="5.2" fill="#3d8ff0" rx=".6"/>
<rect x="1155.5" y="190.1" width="10.5" height="2" fill="#8c8c8c" />
<rect x="1184" y="190.2" width="2.3" height="1.7" fill="#999" />
<rect x="1204.3" y="190.2" width="2.3" height="1.7" fill="#999" />
<rect x="1219.4" y="188.5" width="11.6" height="5.2" fill="#3d8ff0" rx=".6"/>
<rect x="1155.5" y="197.1" width="10.5" height="2" fill="#8c8c8c" />
<rect x="1184" y="197.2" width="2.3" height="1.7" fill="#999" />
<rect x="1204.3" y="197.2" width="2.3" height="1.7" fill="#999" />
<rect x="1219.4" y="195.5" width="11.6" height="5.2" fill="#3d8ff0" rx=".6"/>
<rect x="1155.5" y="204" width="10.5" height="2" fill="#8c8c8c" />
<rect x="1184" y="204.2" width="2.3" height="1.7" fill="#999" />
<rect x="1204.3" y="204.2" width="2.3" height="1.7" fill="#999" />
<rect x="1219.4" y="202.4" width="11.6" height="5.2" fill="#3d8ff0" rx=".6"/>
<rect x="1155.5" y="211" width="10.5" height="2" fill="#8c8c8c" />
<rect x="1184" y="211.2" width="2.3" height="1.7" fill="#999" />
<rect x="1204.3" y="211.2" width="2.3" height="1.7" fill="#999" />
<rect x="1219.4" y="209.4" width="11.6" height="5.2" fill="#3d8ff0" rx=".6"/>
<rect x="1155.5" y="218" width="10.5" height="2" fill="#8c8c8c" />
<rect x="1184" y="218.1" width="2.3" height="1.7" fill="#999" />
<rect x="1204.3" y="218.1" width="2.3" height="1.7" fill="#999" />
<rect x="1219.4" y="216.4" width="11.6" height="5.2" fill="#3d8ff0" rx=".6"/>
<rect x="1156.1" y="176.9" width="9.9" height="1.7" fill="#aaa" />
<rect x="1181.7" y="176.9" width="7" height="1.7" fill="#aaa" />
<rect x="1202" y="176.9" width="7" height="1.7" fill="#aaa" />
<rect x="1222.9" y="176.9" width="5.2" height="1.7" fill="#aaa" />
<rect x="1239.2" y="167" width="103.7" height="54.3" fill="#ffffff" />
<rect x="1244.1" y="170.2" width="10.7" height="2.3" fill="#444" />
<rect x="1252.8" y="188.2" width="75.5" height="0.4" fill="#dcdcdc" />
<rect x="1252.8" y="208.2" width="75.5" height="0.4" fill="#dcdcdc" />
<rect x="1252.8" y="214.9" width="75.5" height="0.4" fill="#dcdcdc" />
<rect x="1253.1" y="185.9" width="0.6" height="35.4" fill="#999" />
<rect x="1248.5" y="187.3" width="3.5" height="1.7" fill="#888" />
<rect x="1248.5" y="194.3" width="3.5" height="1.7" fill="#888" />
<rect x="1248.5" y="200.4" width="3.5" height="1.7" fill="#888" />
<rect x="1248.5" y="207.4" width="3.5" height="1.7" fill="#888" />
<rect x="1248.5" y="214.1" width="3.5" height="1.7" fill="#888" />
<rect x="1257.2" y="195.5" width="5.2" height="25.8" fill="#46c24c" />
<rect x="1294.9" y="190.2" width="5.2" height="31.1" fill="#46c24c" />
<rect x="1347.2" y="167" width="116.2" height="57.2" fill="#ffffff" />
<rect x="1351.6" y="169.9" width="5.8" height="2.3" fill="#555" />
<rect x="1361.2" y="169.9" width="4.9" height="2.3" fill="#555" />
<rect x="1370.4" y="169.9" width="5.2" height="2.3" fill="#555" />
<rect x="1380.9" y="169.9" width="2.9" height="2.3" fill="#333" />
<clipPath id="gc1"><rect x="1350" y="185" width="28.3" height="36"/></clipPath>
<clipPath id="gc3"><rect x="1432.2" y="185" width="30" height="36"/></clipPath>
<g clip-path="url(#gc1)"><circle cx="1371.6" cy="202.9" r="11.6" fill="none" stroke="#dadada" stroke-width="2.8"/><path d="M1364.1,194 A11.6,11.6 0 0 1 1373.6,191.5" fill="none" stroke="#5aa0f0" stroke-width="3"/>
</g>
<circle cx="1405.3" cy="202.1" r="16.4" fill="none" stroke="#d8d8d8" stroke-width="3.8"/>
<g clip-path="url(#gc3)"><circle cx="1437.5" cy="202.9" r="12.8" fill="none" stroke="#dcdcdc" stroke-width="3"/></g>
<rect x="1367.5" y="201.3" width="10.2" height="3.2" fill="#7fb4f2" opacity=".8"/>
<rect x="1401.5" y="200.1" width="7.6" height="3.5" fill="#7fb4f2" opacity=".8"/>
<rect x="1434.3" y="201.9" width="7.3" height="2.6" fill="#7fb4f2" opacity=".8"/>
<rect x="1366.1" y="208.5" width="12.5" height="1.5" fill="#d6d6d6" />
<rect x="1398" y="209.4" width="14.5" height="1.5" fill="#d6d6d6" />
<rect x="1432.9" y="208.5" width="10.2" height="1.5" fill="#d6d6d6" />
<rect x="1099.8" y="221.3" width="365.1" height="5.5" fill="#ffffff" />
<rect x="1102.7" y="222.8" width="12.2" height="2.3" fill="#777" />
<rect x="1116.3" y="223.1" width="11.6" height="1.7" fill="#aaa" />
<rect x="1427.1" y="223.1" width="8.7" height="1.7" fill="#bbb" />
<rect x="1464.8" y="26.7" width="7.3" height="200.1" fill="#fafafa" />
<rect x="1464.5" y="26.7" width="0.4" height="200.1" fill="#dddddd" />
<rect x="1466.6" y="31.9" width="3.2" height="2.9" fill="#666" />
<rect x="1466.6" y="40.1" width="3.2" height="2.9" fill="#3d6ff0" />
<rect x="1466.6" y="48.2" width="3.2" height="2.9" fill="#e0322e" />
<rect x="1466.6" y="56.6" width="3.2" height="2.9" fill="#e05a2e" />
<rect x="1466.6" y="64.8" width="3.2" height="2.9" fill="#3d8ff0" />
<rect x="1466.6" y="72.9" width="3.2" height="2.9" fill="#2a6fd6" />
<rect x="1466.6" y="81" width="3.2" height="2.9" fill="#888" />
<rect x="1466.6" y="211.4" width="2.9" height="4.1" fill="#999" />
<rect x="1466" y="220.2" width="4.1" height="6.4" fill="#333" />
<rect x="1471.1" y="26.7" width="1" height="200.1" fill="#8a8a8a" />
</g>
<use href="#bs" x="561" y="416"/>
<use href="#bs" x="808.3" y="419.6"/>
<use href="#bs" x="912.3" y="419.6"/>
<use href="#bs" x="1111.3" y="419.6"/>
<circle cx="1018.4" cy="464.5" r="2.6" fill="#0a0a0a" />
<circle cx="1030.3" cy="464.5" r="2.6" fill="#0a0a0a" />
<circle cx="1042.2" cy="464.5" r="2.6" fill="#0a0a0a" />
<circle cx="1054" cy="464.5" r="2.6" fill="#0a0a0a" />
<circle cx="1065.9" cy="464.5" r="2.6" fill="#0a0a0a" />
<circle cx="1077.8" cy="464.5" r="2.6" fill="#0a0a0a" />
<use href="#watch" x="241" y="812.5"/>
<use href="#watch" x="347" y="812.5"/>
<use href="#watch" x="566.5" y="812.5"/>
<circle cx="458.2" cy="845.5" r="2.5" fill="#0a0a0a" />
<circle cx="470.1" cy="845.5" r="2.5" fill="#0a0a0a" />
<circle cx="481.9" cy="845.5" r="2.5" fill="#0a0a0a" />
<circle cx="493.8" cy="845.5" r="2.5" fill="#0a0a0a" />
<circle cx="505.6" cy="845.5" r="2.5" fill="#0a0a0a" />
<circle cx="517.5" cy="845.5" r="2.5" fill="#0a0a0a" />
<use href="#beacon" x="247" y="1185"/>
<use href="#beacon" x="352" y="1185"/>
<use href="#beacon" x="557.5" y="1185"/>
<circle cx="458.2" cy="1221" r="2.5" fill="#0a0a0a" />
<circle cx="470.1" cy="1221" r="2.5" fill="#0a0a0a" />
<circle cx="481.9" cy="1221" r="2.5" fill="#0a0a0a" />
<circle cx="493.8" cy="1221" r="2.5" fill="#0a0a0a" />
<circle cx="505.6" cy="1221" r="2.5" fill="#0a0a0a" />
<circle cx="517.5" cy="1221" r="2.5" fill="#0a0a0a" />
<polygon points="761.5,835 781,826 794,982.6 774.7,999" fill="#8c8c8c" />
<polygon points="774.8,828.9 781,826 794,982.6 787.8,987.8" fill="#adadad" />
<polygon points="794,982.6 1422,982.6 1422.7,990 1413.2,999 774.7,999" fill="#8a8a8a" />
<polygon points="794,982.6 1422,982.6 1422.7,990 785.3,990" fill="#a6a6a6" />
<polygon points="781,826 1412,826 1422,982.6 794,982.6" fill="#ffffff" stroke="#b4b4b4" stroke-width="0.8"/>
<polygon points="780.5,825.2 1412.5,825.2 1412.6,827 780.6,827" fill="#a4a4a4" />
<polygon points="787.1,832.8 1407.2,832.8 1416.5,977.4 799.1,977.4" fill="#808080" />
<polygon points="774.2,1013 794,1004.8 807,1162 787.3,1178.4" fill="#8c8c8c" />
<polygon points="787.7,1007.4 794,1004.8 807,1162 800.7,1167.2" fill="#adadad" />
<polygon points="807,1162 1436.4,1162 1437.1,1169.4 1426,1178.4 787.3,1178.4" fill="#8a8a8a" />
<polygon points="807,1162 1436.4,1162 1437.1,1169.4 798.1,1169.4" fill="#a6a6a6" />
<polygon points="794,1004.8 1424.6,1004.8 1436.4,1162 807,1162" fill="#ffffff" stroke="#b4b4b4" stroke-width="0.8"/>
<polygon points="793.5,1004 1425.1,1004 1425.2,1005.8 793.6,1005.8" fill="#a4a4a4" />
<polygon points="800.1,1011.6 1419.9,1011.6 1430.8,1156.8 812.1,1156.8" fill="#808080" />
<polygon points="787.3,1190.2 806.2,1182.1 818.8,1340 800,1355.8" fill="#8c8c8c" />
<polygon points="800.2,1184.7 806.2,1182.1 818.8,1340 812.8,1345.1" fill="#adadad" />
<polygon points="818.8,1340 1449.5,1340 1450.2,1347.1 1439,1355.8 800,1355.8" fill="#8a8a8a" />
<polygon points="818.8,1340 1449.5,1340 1450.2,1347.1 810.3,1347.1" fill="#a6a6a6" />
<polygon points="806.2,1182.1 1437.7,1182.1 1449.5,1340 818.8,1340" fill="#ffffff" stroke="#b4b4b4" stroke-width="0.8"/>
<polygon points="805.7,1181.3 1438.2,1181.3 1438.3,1183.1 805.8,1183.1" fill="#a4a4a4" />
<polygon points="812.2,1188.9 1433,1188.9 1443.9,1334.8 823.9,1334.8" fill="#808080" />
<polygon points="1347,934 1357.5,942 1357.5,951.5 1347,943.5 1336.5,951.5 1336.5,942" fill="#0d7cdc" />
<circle cx="1347" cy="952.4" r="2.7" fill="#1a8ce0" />
<circle cx="1347" cy="964.2" r="2.7" fill="#2893e2" />
<circle cx="1347" cy="976.1" r="2.7" fill="#3e9ee5" />
<circle cx="1347" cy="987.9" r="2.7" fill="#56aae8" />
<circle cx="1347" cy="999.7" r="2.7" fill="#71b7ec" />
<circle cx="1347" cy="1011.5" r="2.7" fill="#8fc6ef" />
<circle cx="1347" cy="1023.4" r="2.7" fill="#aed6f4" />
<circle cx="1347" cy="1035.2" r="2.7" fill="#cfe6f8" />
<polygon points="1347,1120.6 1357.5,1128.6 1357.5,1138.1 1347,1130.1 1336.5,1138.1 1336.5,1128.6" fill="#0d7cdc" />
<circle cx="1347" cy="1139" r="2.7" fill="#1a8ce0" />
<circle cx="1347" cy="1151.1" r="2.7" fill="#2893e2" />
<circle cx="1347" cy="1163.3" r="2.7" fill="#3e9ee5" />
<circle cx="1347" cy="1175.4" r="2.7" fill="#56aae8" />
<circle cx="1347" cy="1187.5" r="2.7" fill="#71b7ec" />
<circle cx="1347" cy="1199.7" r="2.7" fill="#8fc6ef" />
<circle cx="1347" cy="1211.8" r="2.7" fill="#aed6f4" />
<circle cx="1347" cy="1223.9" r="2.7" fill="#cfe6f8" />
<use href="#beaconb" x="817.5" y="861.6"/>
<use href="#watchc" x="1054.6" y="865.6"/>
<use href="#module" x="1305" y="850"/>
<polygon points="1030.7,901.6 1021.1,891.6 1012.1,891.6 1021.7,901.6 1012.1,911.6 1021.1,911.6" fill="#0d7cdc" />
<circle cx="1013.2" cy="901.6" r="2.9" fill="#1a8ce0" />
<circle cx="1001.9" cy="901.6" r="2.9" fill="#2491e1" />
<circle cx="990.6" cy="901.6" r="2.9" fill="#3297e3" />
<circle cx="979.2" cy="901.6" r="2.9" fill="#439fe5" />
<circle cx="967.9" cy="901.6" r="2.9" fill="#56a8e7" />
<circle cx="956.6" cy="901.6" r="2.9" fill="#6ab2e9" />
<circle cx="945.3" cy="901.6" r="2.9" fill="#7fbceb" />
<circle cx="934" cy="901.6" r="2.9" fill="#96c6ee" />
<circle cx="922.6" cy="901.6" r="2.9" fill="#add2f0" />
<circle cx="911.3" cy="901.6" r="2.9" fill="#c6ddf3" />
<circle cx="900" cy="901.6" r="2.9" fill="#dfe9f6" />
<polygon points="1274.2,901.6 1264.6,891.6 1255.6,891.6 1265.2,901.6 1255.6,911.6 1264.6,911.6" fill="#0d7cdc" />
<circle cx="1256.7" cy="901.6" r="2.9" fill="#1a8ce0" />
<circle cx="1245.4" cy="901.6" r="2.9" fill="#2491e1" />
<circle cx="1234.1" cy="901.6" r="2.9" fill="#3297e3" />
<circle cx="1222.8" cy="901.6" r="2.9" fill="#439fe5" />
<circle cx="1211.5" cy="901.6" r="2.9" fill="#56a8e7" />
<circle cx="1200.2" cy="901.6" r="2.9" fill="#6ab2e9" />
<circle cx="1188.9" cy="901.6" r="2.9" fill="#7fbceb" />
<circle cx="1177.6" cy="901.6" r="2.9" fill="#96c6ee" />
<circle cx="1166.3" cy="901.6" r="2.9" fill="#add2f0" />
<circle cx="1155" cy="901.6" r="2.9" fill="#c6ddf3" />
<circle cx="1143.7" cy="901.6" r="2.9" fill="#dfe9f6" />
<use href="#beaconb" x="828" y="1040.2"/>
<use href="#watchc" x="1080.9" y="1044.4"/>
<use href="#module" x="1306.3" y="1044"/>
<polygon points="1053,1077.2 1043.4,1067.2 1034.4,1067.2 1044,1077.2 1034.4,1087.2 1043.4,1087.2" fill="#0d7cdc" />
<circle cx="1035.5" cy="1077.2" r="2.9" fill="#1a8ce0" />
<circle cx="1024.3" cy="1077.2" r="2.9" fill="#2491e1" />
<circle cx="1013" cy="1077.2" r="2.9" fill="#3297e3" />
<circle cx="1001.8" cy="1077.2" r="2.9" fill="#439fe5" />
<circle cx="990.6" cy="1077.2" r="2.9" fill="#56a8e7" />
<circle cx="979.4" cy="1077.2" r="2.9" fill="#6ab2e9" />
<circle cx="968.1" cy="1077.2" r="2.9" fill="#7fbceb" />
<circle cx="956.9" cy="1077.2" r="2.9" fill="#96c6ee" />
<circle cx="945.7" cy="1077.2" r="2.9" fill="#add2f0" />
<circle cx="934.4" cy="1077.2" r="2.9" fill="#c6ddf3" />
<circle cx="923.2" cy="1077.2" r="2.9" fill="#dfe9f6" />
<polygon points="1302.1,1077.2 1292.5,1067.2 1283.5,1067.2 1293.1,1077.2 1283.5,1087.2 1292.5,1087.2" fill="#0d7cdc" />
<circle cx="1284.6" cy="1077.2" r="2.9" fill="#1a8ce0" />
<circle cx="1273.4" cy="1077.2" r="2.9" fill="#2491e1" />
<circle cx="1262.1" cy="1077.2" r="2.9" fill="#3297e3" />
<circle cx="1250.9" cy="1077.2" r="2.9" fill="#439fe5" />
<circle cx="1239.7" cy="1077.2" r="2.9" fill="#56a8e7" />
<circle cx="1228.5" cy="1077.2" r="2.9" fill="#6ab2e9" />
<circle cx="1217.2" cy="1077.2" r="2.9" fill="#7fbceb" />
<circle cx="1206" cy="1077.2" r="2.9" fill="#96c6ee" />
<circle cx="1194.8" cy="1077.2" r="2.9" fill="#add2f0" />
<circle cx="1183.5" cy="1077.2" r="2.9" fill="#c6ddf3" />
<circle cx="1172.3" cy="1077.2" r="2.9" fill="#dfe9f6" />
<use href="#beaconb" x="844" y="1219"/>
<use href="#watchc" x="1102.6" y="1219"/>
<use href="#module" x="1320.2" y="1240.2"/>
<polygon points="1075.3,1250.9 1065.7,1240.9 1056.7,1240.9 1066.3,1250.9 1056.7,1260.9 1065.7,1260.9" fill="#0d7cdc" />
<circle cx="1057.8" cy="1250.9" r="2.9" fill="#1a8ce0" />
<circle cx="1046.5" cy="1250.9" r="2.9" fill="#2491e1" />
<circle cx="1035.2" cy="1250.9" r="2.9" fill="#3297e3" />
<circle cx="1024" cy="1250.9" r="2.9" fill="#439fe5" />
<circle cx="1012.7" cy="1250.9" r="2.9" fill="#56a8e7" />
<circle cx="1001.4" cy="1250.9" r="2.9" fill="#6ab2e9" />
<circle cx="990.1" cy="1250.9" r="2.9" fill="#7fbceb" />
<circle cx="978.8" cy="1250.9" r="2.9" fill="#96c6ee" />
<circle cx="967.6" cy="1250.9" r="2.9" fill="#add2f0" />
<circle cx="956.3" cy="1250.9" r="2.9" fill="#c6ddf3" />
<circle cx="945" cy="1250.9" r="2.9" fill="#dfe9f6" />
<polygon points="1322.3,1255.9 1312.7,1245.9 1303.7,1245.9 1313.3,1255.9 1303.7,1265.9 1312.7,1265.9" fill="#0d7cdc" />
<circle cx="1304.8" cy="1255.9" r="2.9" fill="#1a8ce0" />
<circle cx="1293.5" cy="1255.9" r="2.9" fill="#2491e1" />
<circle cx="1282.1" cy="1255.9" r="2.9" fill="#3297e3" />
<circle cx="1270.8" cy="1255.9" r="2.9" fill="#439fe5" />
<circle cx="1259.5" cy="1255.9" r="2.9" fill="#56a8e7" />
<circle cx="1248.2" cy="1255.9" r="2.9" fill="#6ab2e9" />
<circle cx="1236.8" cy="1255.9" r="2.9" fill="#7fbceb" />
<circle cx="1225.5" cy="1255.9" r="2.9" fill="#96c6ee" />
<circle cx="1214.2" cy="1255.9" r="2.9" fill="#add2f0" />
<circle cx="1202.8" cy="1255.9" r="2.9" fill="#c6ddf3" />
<circle cx="1191.5" cy="1255.9" r="2.9" fill="#dfe9f6" />
<polygon points="439.1,135.9 448.5,126.2 457.1,126.2 447.7,135.9 457.1,145.6 448.5,145.6" fill="#0f6fbf" />
<circle cx="458" cy="135.9" r="2.6" fill="#1278be" />
<circle cx="470.5" cy="135.9" r="2.6" fill="#2481c2" />
<circle cx="483" cy="135.9" r="2.6" fill="#3f8fc7" />
<circle cx="495.4" cy="135.9" r="2.6" fill="#5f9fcd" />
<circle cx="507.9" cy="135.9" r="2.6" fill="#82b1d4" />
<circle cx="520.4" cy="135.9" r="2.6" fill="#a7c5db" />
<circle cx="532.9" cy="135.9" r="2.6" fill="#cfd9e3" />
<polygon points="1083.7,128 1074.3,118.3 1065.7,118.3 1075.1,128 1065.7,137.7 1074.3,137.7" fill="#0f6fbf" />
<circle cx="1065.3" cy="128" r="2.6" fill="#1278be" />
<circle cx="1053.4" cy="128" r="2.6" fill="#2381c2" />
<circle cx="1041.5" cy="128" r="2.6" fill="#3c8fc9" />
<circle cx="1029.5" cy="128" r="2.6" fill="#5a9fd1" />
<circle cx="1017.6" cy="128" r="2.6" fill="#7ab0d9" />
<circle cx="1005.7" cy="128" r="2.6" fill="#9ec3e2" />
<circle cx="993.8" cy="128" r="2.6" fill="#c3d7ec" />
<polygon points="622.6,277.1 629.8,282.1 629.8,289.1 622.6,284.1 615.4,289.1 615.4,282.1" fill="#0f6fbf" />
<circle cx="622.6" cy="290.4" r="1.6" fill="#0f62a8" />
<circle cx="622.6" cy="299" r="1.6" fill="#1a69ab" />
<circle cx="622.6" cy="307.7" r="1.6" fill="#2b72af" />
<circle cx="622.6" cy="316.3" r="1.6" fill="#3f7eb3" />
<circle cx="622.6" cy="324.9" r="1.6" fill="#548ab8" />
<circle cx="622.6" cy="333.5" r="1.6" fill="#6c98bd" />
<circle cx="622.6" cy="342.2" r="1.6" fill="#84a6c3" />
<circle cx="622.6" cy="350.8" r="1.6" fill="#9fb6c9" />
<circle cx="622.6" cy="359.4" r="1.6" fill="#bac6cf" />
<circle cx="622.6" cy="368.1" r="1.6" fill="#d6d6d6" />
<polygon points="889.9,277.1 897.1,282.1 897.1,289.1 889.9,284.1 882.7,289.1 882.7,282.1" fill="#0f6fbf" />
<circle cx="889.9" cy="290.4" r="1.6" fill="#0f62a8" />
<circle cx="889.9" cy="299" r="1.6" fill="#1a69ab" />
<circle cx="889.9" cy="307.7" r="1.6" fill="#2b72af" />
<circle cx="889.9" cy="316.3" r="1.6" fill="#3f7eb3" />
<circle cx="889.9" cy="324.9" r="1.6" fill="#548ab8" />
<circle cx="889.9" cy="333.5" r="1.6" fill="#6c98bd" />
<circle cx="889.9" cy="342.2" r="1.6" fill="#84a6c3" />
<circle cx="889.9" cy="350.8" r="1.6" fill="#9fb6c9" />
<circle cx="889.9" cy="359.4" r="1.6" fill="#bac6cf" />
<circle cx="889.9" cy="368.1" r="1.6" fill="#d6d6d6" />
<polygon points="580.6,635 590.9,644.2 590.9,653 580.6,643.8 570.3,653 570.3,644.2" fill="#0f6fbf" />
<circle cx="580.6" cy="653" r="2.5" fill="#1280c6" />
<circle cx="580.6" cy="664.2" r="2.5" fill="#1f86c9" />
<circle cx="580.6" cy="675.5" r="2.5" fill="#318fcd" />
<circle cx="580.6" cy="686.7" r="2.5" fill="#479ad1" />
<circle cx="580.6" cy="697.9" r="2.5" fill="#5fa6d6" />
<circle cx="580.6" cy="709.1" r="2.5" fill="#79b2dc" />
<circle cx="580.6" cy="720.4" r="2.5" fill="#94c0e2" />
<circle cx="580.6" cy="731.6" r="2.5" fill="#b1cee8" />
<circle cx="580.6" cy="742.8" r="2.5" fill="#cfddee" />
<polygon points="1016.5,634.8 1026.8,644 1026.8,652.8 1016.5,643.6 1006.2,652.8 1006.2,644" fill="#0f6fbf" />
<circle cx="1016.5" cy="653.1" r="2.5" fill="#1280c6" />
<circle cx="1016.5" cy="664.8" r="2.5" fill="#2187c9" />
<circle cx="1016.5" cy="676.4" r="2.5" fill="#3792ce" />
<circle cx="1016.5" cy="688.1" r="2.5" fill="#519fd3" />
<circle cx="1016.5" cy="699.7" r="2.5" fill="#6dadd9" />
<circle cx="1016.5" cy="711.4" r="2.5" fill="#8cbce0" />
<circle cx="1016.5" cy="723.1" r="2.5" fill="#adcce7" />
<circle cx="1016.5" cy="734.7" r="2.5" fill="#cfddee" />
<polygon points="468.4,1021.3 478.7,1030.5 478.7,1039.3 468.4,1030.1 458.1,1039.3 458.1,1030.5" fill="#0f6fbf" />
<circle cx="468.4" cy="1039" r="2.5" fill="#1280c6" />
<circle cx="468.4" cy="1051.5" r="2.5" fill="#2187c9" />
<circle cx="468.4" cy="1063.9" r="2.5" fill="#3792ce" />
<circle cx="468.4" cy="1076.4" r="2.5" fill="#519fd3" />
<circle cx="468.4" cy="1088.9" r="2.5" fill="#6dadd9" />
<circle cx="468.4" cy="1101.3" r="2.5" fill="#8cbce0" />
<circle cx="468.4" cy="1113.8" r="2.5" fill="#adcce7" />
<circle cx="468.4" cy="1126.3" r="2.5" fill="#cfddee" />
<polygon points="780.7,638.2 787.6,634.3 801,637.3 797.9,651.1 791.1,654.8 793.8,641.5" fill="#0d68b8" />
<circle cx="785.8" cy="646.7" r="2.5" fill="#1280c6" />
<circle cx="775.6" cy="652.6" r="2.5" fill="#1783c7" />
<circle cx="765.4" cy="658.5" r="2.5" fill="#1f86c9" />
<circle cx="755.1" cy="664.4" r="2.5" fill="#278bcb" />
<circle cx="744.9" cy="670.3" r="2.5" fill="#318fcd" />
<circle cx="734.7" cy="676.2" r="2.5" fill="#3c95cf" />
<circle cx="724.5" cy="682.1" r="2.5" fill="#479ad1" />
<circle cx="714.3" cy="688" r="2.5" fill="#53a0d4" />
<circle cx="704" cy="693.9" r="2.5" fill="#5fa6d6" />
<circle cx="693.8" cy="699.8" r="2.5" fill="#6bacd9" />
<circle cx="683.6" cy="705.7" r="2.5" fill="#79b2dc" />
<circle cx="673.4" cy="711.6" r="2.5" fill="#86b9df" />
<circle cx="663.2" cy="717.5" r="2.5" fill="#94c0e2" />
<circle cx="653" cy="723.4" r="2.5" fill="#a2c7e5" />
<circle cx="642.7" cy="729.3" r="2.5" fill="#b1cee8" />
<circle cx="632.5" cy="735.2" r="2.5" fill="#c0d6eb" />
<circle cx="622.3" cy="741.1" r="2.5" fill="#cfddee" />
<text x="124.5" y="179.5" font-size="17.4" text-anchor="middle" >无人艇救援</text>
<text x="297.5" y="179.5" font-size="17.4" text-anchor="middle" >无人机救援</text>
<text x="211.5" y="252.7" font-size="23" text-anchor="middle" >联动救援设备</text>
<text x="635" y="252.7" font-size="23" text-anchor="middle" >报警救援服务器</text>
<text x="888" y="252.7" font-size="23" text-anchor="middle" >定位服务器</text>
<text x="1295" y="272.6" font-size="23" text-anchor="middle" >定位显示</text>
<text x="599" y="605.2" font-size="23" text-anchor="middle" >报警基站组</text>
<text x="1001.5" y="605.2" font-size="23" text-anchor="middle" >定位基站组</text>
<text x="509.3" y="701" font-size="17" text-anchor="middle" >发送报警信息</text>
<text x="868.7" y="701" font-size="17" text-anchor="middle" >发送位置信标信息</text>
<text x="302.3" y="984.6" font-size="23" text-anchor="start" >手表（<tspan font-size="24.6">N</tspan>个接受蓝牙信号）</text>
<text x="539" y="1092" font-size="17.3" text-anchor="middle" >发射信号蓝牙</text>
<text x="374.3" y="1362" font-size="23" text-anchor="start" >信标（<tspan font-size="24.6">N</tspan>个）</text>
<text x="1114" y="806" font-size="34.5" text-anchor="middle" >密闭舱室</text>
<text x="850" y="964" font-size="17.2" text-anchor="middle" >信标</text>
<text x="1106" y="964" font-size="17.2" text-anchor="middle" >手表</text>
<text x="1397.5" y="968" font-size="17.2" text-anchor="middle" >数据模块</text>
<text x="865" y="1141" font-size="17.2" text-anchor="middle" >信标</text>
<text x="1117" y="1146.5" font-size="17.2" text-anchor="middle" >手表</text>
<text x="1408.5" y="1148" font-size="17.2" text-anchor="middle" >数据模块</text>
<text x="879" y="1316" font-size="17.2" text-anchor="middle" >信标</text>
<text x="1139" y="1321" font-size="17.2" text-anchor="middle" >手表</text>
<text x="1417" y="1319.5" font-size="17.2" text-anchor="middle" >数据模块</text>
</svg>
</body>
</html>
